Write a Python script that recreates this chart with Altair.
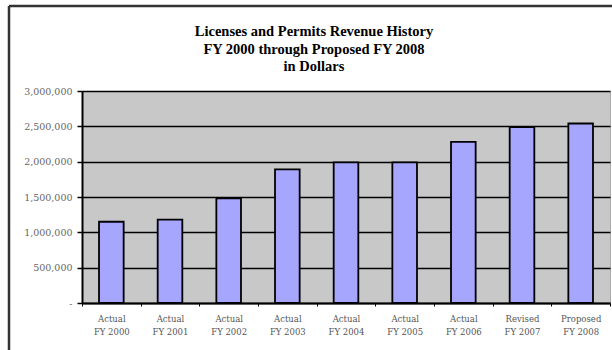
import altair as alt
import pandas as pd

status = ["Actual", "Actual", "Actual", "Actual", "Actual", "Actual", "Actual", "Revised", "Proposed"]
years = ["2000", "2001", "2002", "2003", "2004", "2005", "2006", "2007", "2008"]
revenue = [1150000, 1180000, 1480000, 1890000, 1990000, 1990000, 2280000, 2490000, 2540000]
y_ticks = [0, 500000, 1000000, 1500000, 2000000, 2500000, 3000000]
title_lines = [
    "Licenses and Permits Revenue History",
    "FY 2000  through Proposed FY 2008",
    "in Dollars",
]

categories = [f"{s} FY {y}" for s, y in zip(status, years)]
df = pd.DataFrame({"category": categories, "revenue": revenue})

label_font = "DejaVu Serif"

bars = alt.Chart(df).mark_bar(
    fill="#A6A6FF", stroke="black", strokeWidth=1.8,
    width=alt.RelativeBandSize(0.42)
).encode(
    x=alt.X(
        "category:N", sort=categories, title=None,
        scale=alt.Scale(paddingInner=0, paddingOuter=0),
        axis=alt.Axis(
            labelAngle=0, tickBand="extent", ticks=True, tickSize=3,
            tickColor="black", domainColor="black", domainWidth=2,
            labelFont=label_font, labelFontSize=8.5, labelColor="#555555",
            labelPadding=8, labelLineHeight=13,
            labelExpr="[slice(datum.label, 0, indexof(datum.label, ' FY')), slice(datum.label, indexof(datum.label, ' FY') + 1)]",
        ),
    ),
    y=alt.Y(
        "revenue:Q", title=None,
        scale=alt.Scale(domain=[0, 3000000], nice=False),
        axis=alt.Axis(
            values=y_ticks, grid=True, gridColor="black", gridWidth=1.5,
            domainColor="black", domainWidth=2, tickColor="black", tickSize=5,
            tickWidth=1.5, labelFont=label_font, labelFontSize=9.5,
            labelColor="#666666", labelPadding=5,
            labelExpr="datum.value == 0 ? '-' : format(datum.value, ',')",
        ),
    ),
)

frame_df = pd.DataFrame({"a": [0]})
left_rule = alt.Chart(frame_df).mark_rule(color="#333333", strokeWidth=2.5).encode(
    x=alt.value(-73), y=alt.value(-85), y2=alt.value(262)
)
top_rule = alt.Chart(frame_df).mark_rule(color="#333333", strokeWidth=2.5).encode(
    x=alt.value(-73), x2=alt.value(535), y=alt.value(-85)
)
title = alt.Chart(frame_df).mark_text(
    font="Liberation Serif", fontSize=14.5, fontWeight="bold", lineHeight=17.5,
    lineBreak="\n", align="center", baseline="top", color="black"
).encode(
    text=alt.value("\n".join(title_lines)),
    x=alt.value(232), y=alt.value(-66),
)

chart = alt.layer(bars, left_rule, top_rule, title).properties(
    width=528,
    height=212,
    autosize=alt.AutoSizeParams(type="none"),
    padding={"left": 82, "top": 91, "right": 2, "bottom": 47},
).configure(
    background="white",
    view=alt.ViewConfig(fill="#C8C8C8", stroke="#AAAAAA", strokeWidth=1),
)

chart.save("out.html", embed_options={"renderer": "svg", "actions": False})
